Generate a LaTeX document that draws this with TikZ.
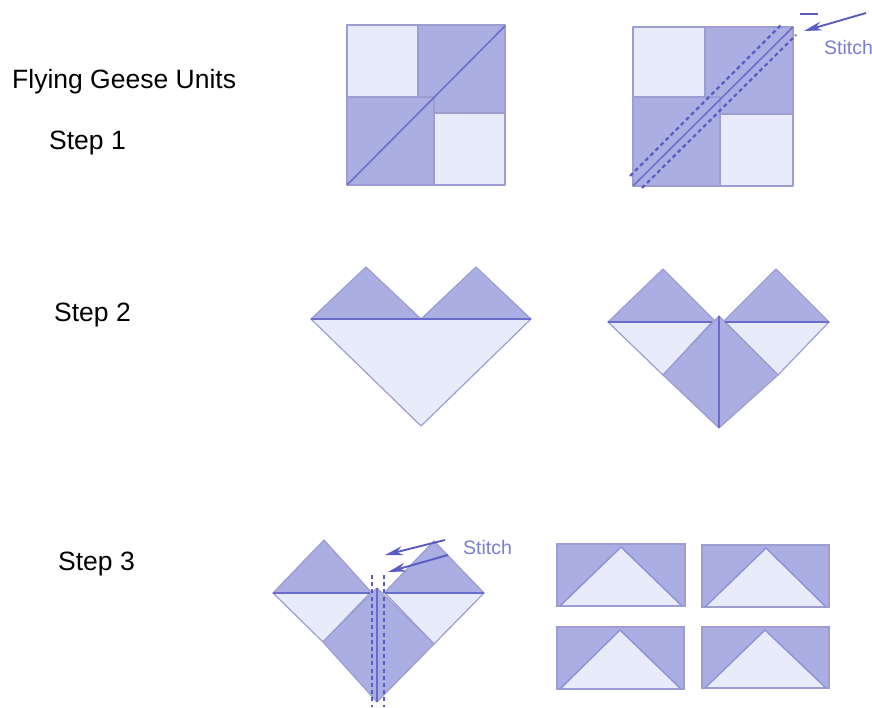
\documentclass[tikz,border=0pt]{standalone}
\usepackage{fontspec}
\setmainfont{Liberation Sans}
\usetikzlibrary{arrows.meta}
\definecolor{darkpatch}{HTML}{ABAEE2}
\definecolor{lightpatch}{HTML}{E8EBF9}
\definecolor{edgeblue}{HTML}{9C9ED2}
\definecolor{seamblue}{HTML}{6A6CCB}
\definecolor{stitchblue}{HTML}{5A5CC4}
\definecolor{labelblue}{HTML}{7B7DD0}
\tikzset{
  dk/.style={fill=darkpatch,draw=edgeblue,line width=1.2pt,line join=round},
  lt/.style={fill=lightpatch,draw=edgeblue,line width=1.2pt,line join=round},
  seam/.style={draw=seamblue,line width=1.5pt},
  stitchline/.style={draw=stitchblue,line width=2.2pt,dash pattern=on 4pt off 3.2pt},
  pointer/.style={draw=stitchblue,line width=1.9pt,-{Stealth[length=18pt,width=9pt]}},
  steplabel/.style={anchor=west,font=\fontsize{26.5}{30}\selectfont,text=black,inner sep=0pt},
  stitchlabel/.style={anchor=west,font=\fontsize{19.5}{23}\selectfont,text=labelblue,inner sep=0pt},
}
\newcommand{\geeserect}[5]{%
  \fill[darkpatch] (#1,#3) rectangle (#2,#4);
  \fill[lightpatch] (#1+3,#4) -- (#5,#3+3) -- (#2-3,#4) -- cycle;
  \draw[edgeblue,line width=1.4pt] (#1,#3) rectangle (#2,#4);
  \draw[seamblue!75,line width=1.4pt] (#1+3,#4) -- (#5,#3+3) -- (#2-3,#4);
}
\begin{document}
\begin{tikzpicture}[x=1pt,y=-1pt]
\useasboundingbox (0,0) rectangle (872,708);
\fill[white] (0,0) rectangle (872,708);

% Text
\node[steplabel] (title) at (12,82) {Flying Geese Units};
\node[steplabel] (s1) at (49,143) {Step 1};
\node[steplabel] (s2) at (54,315) {Step 2};
\node[steplabel] (s3) at (58,564) {Step 3};
\node[stitchlabel] (st1) at (824,48) {Stitch};
\node[stitchlabel] (st2) at (463,548) {Stitch};

% Step 1 left
\draw[lt] (347,25) rectangle (418,97);
\draw[lt] (434,113) rectangle (505,185);
\draw[dk] (418,25) -- (505,25) -- (505,113) -- (434,113) -- (434,97) -- (418,97) -- cycle;
\draw[dk] (347,97) -- (434,97) -- (434,185) -- (347,185) -- cycle;
\draw[seam] (347,185) -- (505,26);

% Step 1 right
\draw[lt] (633,27) rectangle (705,97);
\draw[lt] (720,114) rectangle (793,186);
\draw[dk] (705,27) -- (793,27) -- (793,114) -- (720,114) -- (720,97) -- (705,97) -- cycle;
\draw[dk] (633,97) -- (720,97) -- (720,186) -- (633,186) -- cycle;
\draw[seam] (633,186) -- (793,27);
\draw[stitchline] (630,176) -- (782,24);
\draw[stitchline] (642,188) -- (796,35);
\coordinate (a1s) at (866,13);
\coordinate (a1e) at (804,31);
\draw[pointer] (a1s) -- (a1e);
\draw[stitchblue,line width=1.9pt] (800,14) -- (818,14);

% Step 2 left
\draw[dk] (311,319) -- (366,267) -- (421,319) -- cycle;
\draw[dk] (421,319) -- (476,267) -- (531,319) -- cycle;
\draw[lt] (311,319) -- (531,319) -- (421,426) -- cycle;
\draw[seam] (311,319) -- (531,319);

% Step 2 right
\draw[dk] (608,322) -- (663,269) -- (716,322) -- cycle;
\draw[dk] (723,322) -- (776,269) -- (829,322) -- cycle;
\draw[lt] (608,322) -- (712,322) -- (663,375) -- cycle;
\draw[lt] (829,322) -- (725,322) -- (778,375) -- cycle;
\draw[dk] (719,316) -- (778,375) -- (719,428) -- (663,375) -- cycle;
\draw[seam] (608,322) -- (712,322) (725,322) -- (829,322);
\draw[seam] (719,316) -- (719,428);

% Step 3 left heart
\draw[dk] (273,593) -- (324,540) -- (372,593) -- cycle;
\draw[dk] (384,593) -- (434,541) -- (484,593) -- cycle;
\draw[lt] (273,593) -- (370,593) -- (323,642) -- cycle;
\draw[lt] (484,593) -- (385,593) -- (434,644) -- cycle;
\draw[dk] (377,588) -- (434,644) -- (377,702) -- (323,642) -- cycle;
\draw[seam] (273,593) -- (370,593) (385,593) -- (484,593);
\draw[seam] (377,588) -- (377,702);
\draw[stitchline] (372,575) -- (372,707);
\draw[stitchline] (384,575) -- (384,707);
\coordinate (a2s) at (445,540);
\coordinate (a2e) at (385,555);
\coordinate (a3s) at (448,555);
\coordinate (a3e) at (388,572);
\draw[pointer] (a2s) -- (a2e);
\draw[pointer] (a3s) -- (a3e);

% Finished units
\geeserect{557}{685}{544}{606}{621}
\geeserect{702}{829}{545}{607}{766}
\geeserect{557}{684}{627}{689}{620}
\geeserect{702}{829}{627}{688}{765}
\end{tikzpicture}
\end{document}
